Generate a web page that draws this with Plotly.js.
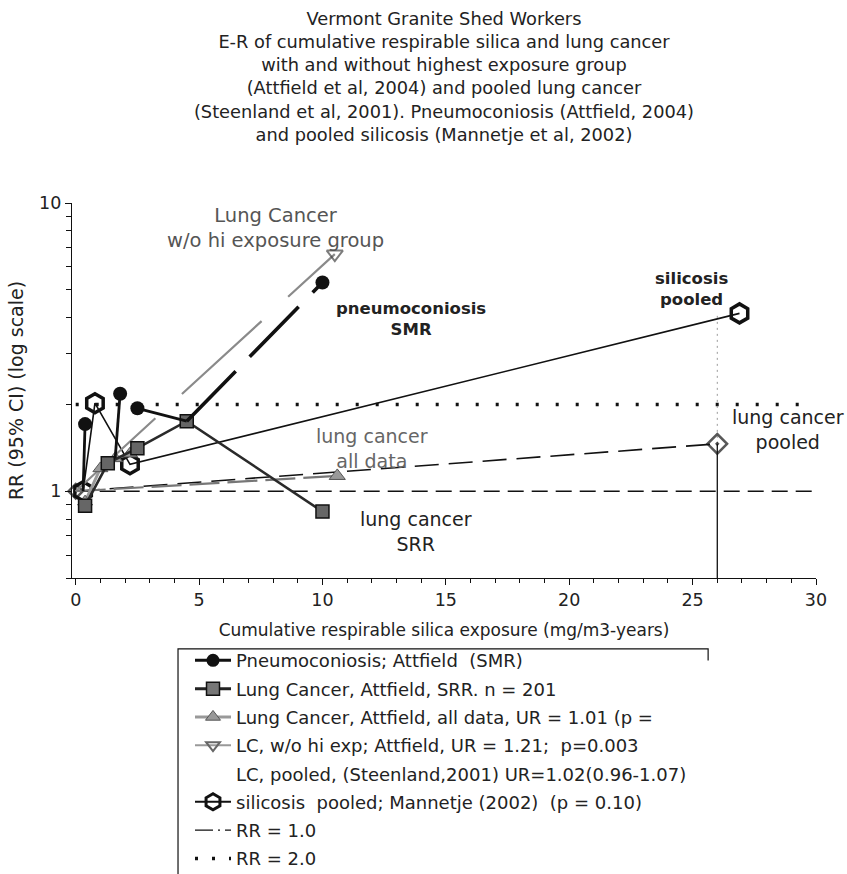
<!DOCTYPE html>
<html>
<head>
<meta charset="utf-8">
<script src="https://cdn.plot.ly/plotly-3.0.1.min.js"></script>
<style>
  html, body { margin: 0; padding: 0; background: #fff; }
  #chart { width: 847px; height: 874px; }
</style>
</head>
<body>
<div id="chart"></div>
<script>
// ---- data (cumulative exposure in mg/m3-years, RR on log scale) ----
const titleLines = [
  "Vermont Granite Shed Workers",
  "E-R of cumulative respirable silica and lung cancer",
  "with and without highest exposure group",
  "(Attfield et al, 2004) and pooled lung cancer",
  "(Steenland et al, 2001). Pneumoconiosis (Attfield, 2004)",
  "and pooled silicosis (Mannetje et al, 2002)"
];

// Pneumoconiosis SMR (Attfield)
const pneumoX = [0.3, 0.38, null, 1.8, 1.6, null, 2.5, 4.5];
const pneumoY = [1.0, 1.71, null, 2.18, 1.3, null, 1.94, 1.75];
const pneumoPtX = [0.38, 1.8, 2.5, 10.0];
const pneumoPtY = [1.71, 2.18, 1.94, 5.3];
const pneumoTrendX = [4.5, 10.0];
const pneumoTrendY = [1.75, 5.3];

// Lung cancer SRR (Attfield)
const srrX = [0.38, 1.3, 2.5, 4.5, 10.0];
const srrY = [0.89, 1.25, 1.41, 1.75, 0.85];

// Lung cancer, all data (Attfield), UR = 1.01
const allX = [0.38, 1.0, 1.6, 2.2];
const allY = [0.92, 1.2, 1.3, 1.35];
const allEndX = [10.6];
const allEndY = [1.13];
const allTrendX = [0, 10.6];
const allTrendY = [1.0, 1.13];

// Lung cancer without highest exposure group, UR = 1.21
const woHiX = [0, 10.5];
const woHiY = [1.0, 6.65];

// Pooled lung cancer (Steenland 2001), UR = 1.02 (0.96-1.07)
const pooledX = [0, 26.0];
const pooledY = [1.0, 1.46];
const pooledCiX = [26.0, 26.0];
const pooledCiLow = [0.5, 1.46];
const pooledCiHigh = [1.46, 4.07];

// Pooled silicosis (Mannetje 2002)
const silX = [0.3, 0.78, 2.2, 26.9];
const silY = [1.0, 2.02, 1.24, 4.14];

// Reference lines
const rr1X = [0, 30];
const rr1Y = [1, 1];
const rr2X = [0, 29.3];
const rr2Y = [2, 2];

// Axis ticks
const xTicks = [0, 5, 10, 15, 20, 25, 30];
const yTicks = [1, 10];
const yTickText = ["1", "10"];
const yMinor = [0.5, 0.6, 0.7, 0.8, 0.9, 2, 3, 4, 5, 6, 7, 8, 9];

// Legend labels
const names = {
  pneumo: "Pneumoconiosis; Attfield  (SMR)",
  srr: "Lung Cancer, Attfield, SRR. n = 201",
  all: "Lung Cancer, Attfield, all data, UR = 1.01 (p =",
  woHi: "LC, w/o hi exp; Attfield, UR = 1.21;  p=0.003",
  pooled: "LC, pooled, (Steenland,2001) UR=1.02(0.96-1.07)",
  sil: "silicosis  pooled; Mannetje (2002)  (p = 0.10)",
  rr1: "RR = 1.0",
  rr2: "RR = 2.0"
};

const FONT = "DejaVu Sans, Verdana, sans-serif";
const INK = "#222";

// plotted series (legend entries are given by the key traces further down)
const traces = [
  { x: rr1X, y: rr1Y, mode: "lines", showlegend: false,
    line: { color: "#111", width: 1.3, dash: "16px,8px" } },
  { x: rr2X, y: rr2Y, mode: "lines", showlegend: false,
    line: { color: "#111", width: 3.5, dash: "3px,17px" } },

  // pooled lung cancer with its interval
  { x: pooledCiX, y: pooledCiLow, mode: "lines", showlegend: false,
    line: { color: "#111", width: 1.3 } },
  { x: pooledCiX, y: pooledCiHigh, mode: "lines", showlegend: false,
    line: { color: "#999", width: 1, dash: "2px,4px" } },
  { x: pooledX, y: pooledY, mode: "lines+markers", showlegend: false, cliponaxis: false,
    line: { color: "#111", width: 1.6, dash: "24px,10px" },
    marker: { symbol: "diamond-open-dot", size: [11, 15], color: "#111", line: { width: 2.5 } } },

  // silicosis pooled
  { x: silX, y: silY, mode: "lines+markers", showlegend: false, cliponaxis: false,
    line: { color: "#111", width: 1.6 },
    marker: { symbol: "hexagon-open", size: 19, color: "#111", line: { width: 3.5 } } },

  // lung cancer w/o highest group
  { x: woHiX, y: woHiY, mode: "lines+markers", showlegend: false,
    line: { color: "#8a8a8a", width: 2.2, dash: "108px,36px" },
    marker: { symbol: "triangle-down-open", size: [0, 14], color: "#444", line: { width: 2 } } },

  // lung cancer all data
  { x: allTrendX, y: allTrendY, mode: "lines", showlegend: false,
    line: { color: "#777", width: 2.2, dash: "30px,8px" } },
  { x: allX, y: allY, mode: "lines+markers", showlegend: false,
    line: { color: "#9a9a9a", width: 3 },
    marker: { symbol: "triangle-up", size: 13, color: "#999", line: { color: "#555", width: 1 } } },
  { x: allEndX, y: allEndY, mode: "markers", showlegend: false,
    marker: { symbol: "triangle-up", size: 14, color: "#999", line: { color: "#555", width: 1 } } },

  // lung cancer SRR
  { x: srrX, y: srrY, mode: "lines+markers", showlegend: false,
    line: { color: "#2a2a2a", width: 2.6 },
    marker: { symbol: "square", size: 13, color: "#666", line: { color: "#111", width: 1.5 } } },

  // pneumoconiosis SMR
  { x: pneumoTrendX, y: pneumoTrendY, mode: "lines", showlegend: false,
    line: { color: "#111", width: 3.6, dash: "70px,20px" } },
  { x: pneumoX, y: pneumoY, mode: "lines", showlegend: false, connectgaps: false,
    line: { color: "#111", width: 2.8 } },
  { x: pneumoPtX, y: pneumoPtY, mode: "markers", showlegend: false, cliponaxis: false,
    marker: { symbol: "circle", size: 14, color: "#111" } }
];

// legend key entries (no points of their own)
const keys = [
  { name: names.pneumo, line: { color: "#111", width: 3 },
    marker: { symbol: "circle", size: 13, color: "#111" } },
  { name: names.srr, line: { color: "#222", width: 3 },
    marker: { symbol: "square", size: 13, color: "#777", line: { color: "#111", width: 1.5 } } },
  { name: names.all, line: { color: "#999", width: 3 },
    marker: { symbol: "triangle-up", size: 13, color: "#999", line: { color: "#555", width: 1 } } },
  { name: names.woHi, line: { color: "#999", width: 2 },
    marker: { symbol: "triangle-down-open", size: 12, color: "#666", line: { width: 2 } } },
  { name: names.pooled, line: { color: "rgba(0,0,0,0)", width: 1 } },
  { name: names.sil, line: { color: "#111", width: 2 },
    marker: { symbol: "hexagon-open", size: 16, color: "#111", line: { width: 3 } } },
  { name: names.rr1, line: { color: "#111", width: 1.3, dash: "18px,5px,2px,5px" } },
  { name: names.rr2, line: { color: "#111", width: 3.5, dash: "3px,14px" } }
];
keys.forEach((k, i) => {
  traces.push(Object.assign({
    x: [null], y: [null], mode: k.marker ? "lines+markers" : "lines",
    legendgroup: "g" + i, legendrank: i + 1, showlegend: true
  }, k));
});

// in-plot labels (y given in log10 units, as the y axis is logarithmic)
const labels = [
  { text: "Lung Cancer<br>w/o hi exposure group", x: 8.08, y: 0.915, color: "#555", size: 19.5 },
  { text: "<b>pneumoconiosis</b><br><b>SMR</b>", x: 13.59, y: 0.598, color: INK, size: 16.5 },
  { text: "<b>silicosis</b><br><b>pooled</b>", x: 24.95, y: 0.70, color: INK, size: 16.5 },
  { text: "lung cancer<br>pooled", x: 28.86, y: 0.2125, color: INK, size: 19 },
  { text: "lung cancer<br>all data", x: 12.0, y: 0.148, color: "#666", size: 19 },
  { text: "lung cancer<br>SRR", x: 13.79, y: -0.139, color: INK, size: 19 }
];

const annotations = labels.map(l => ({
  text: l.text, x: l.x, y: l.y, xref: "x", yref: "y",
  showarrow: false, xanchor: "center", yanchor: "middle",
  font: { family: FONT, size: l.size, color: l.color }
}));

const layout = {
  width: 847, height: 874,
  margin: { l: 72, r: 31, t: 203, b: 296, autoexpand: false },
  paper_bgcolor: "#fff", plot_bgcolor: "#fff",
  font: { family: FONT, color: INK },
  showlegend: true,
  title: {
    text: titleLines.join("<br>"),
    x: 0.5, xanchor: "center", xref: "paper",
    y: 1 - 25 / 874, yanchor: "top", yref: "container",
    font: { family: FONT, size: 17.8, color: INK }
  },
  xaxis: {
    range: [-0.15, 30],
    tickvals: xTicks,
    ticks: "outside", ticklen: 6, tickcolor: "#111",
    minor: { dtick: 1, tick0: 0, ticks: "outside", ticklen: 4, tickcolor: "#111" },
    showline: true, linecolor: "#111", linewidth: 1.2,
    showgrid: false, zeroline: false,
    tickfont: { family: FONT, size: 17.5, color: INK },
    title: { text: "Cumulative respirable silica exposure (mg/m3-years)", standoff: 14,
             font: { family: FONT, size: 17, color: INK } },
    automargin: false
  },
  yaxis: {
    type: "log",
    range: [Math.log10(0.5), 1],
    tickvals: yTicks, ticktext: yTickText,
    ticks: "outside", ticklen: 6, tickcolor: "#111",
    minor: { tickvals: yMinor, ticks: "outside", ticklen: 5, tickcolor: "#111" },
    showline: true, linecolor: "#111", linewidth: 1.2,
    showgrid: false, zeroline: false,
    tickfont: { family: FONT, size: 17.5, color: INK },
    title: { text: "RR (95% CI) (log scale)", standoff: 10,
             font: { family: FONT, size: 19, color: INK } },
    automargin: false
  },
  legend: {
    x: (190 - 72) / 744, xanchor: "left", xref: "paper",
    y: -0.171, yanchor: "top", yref: "paper",
    font: { family: FONT, size: 18, color: INK },
    bgcolor: "rgba(0,0,0,0)", borderwidth: 0,
    itemwidth: 36, traceorder: "grouped", tracegroupgap: 1.9
  },
  shapes: [
    { type: "path", xref: "paper", yref: "paper",
      path: "M 0.855 -0.22 L 0.855 -0.189 L 0.1425 -0.189 L 0.1425 -0.86",
      line: { color: "#111", width: 1.2 } }
  ],
  annotations: annotations
};

Plotly.newPlot("chart", traces, layout, { displayModeBar: false, staticPlot: true });
</script>
</body>
</html>
